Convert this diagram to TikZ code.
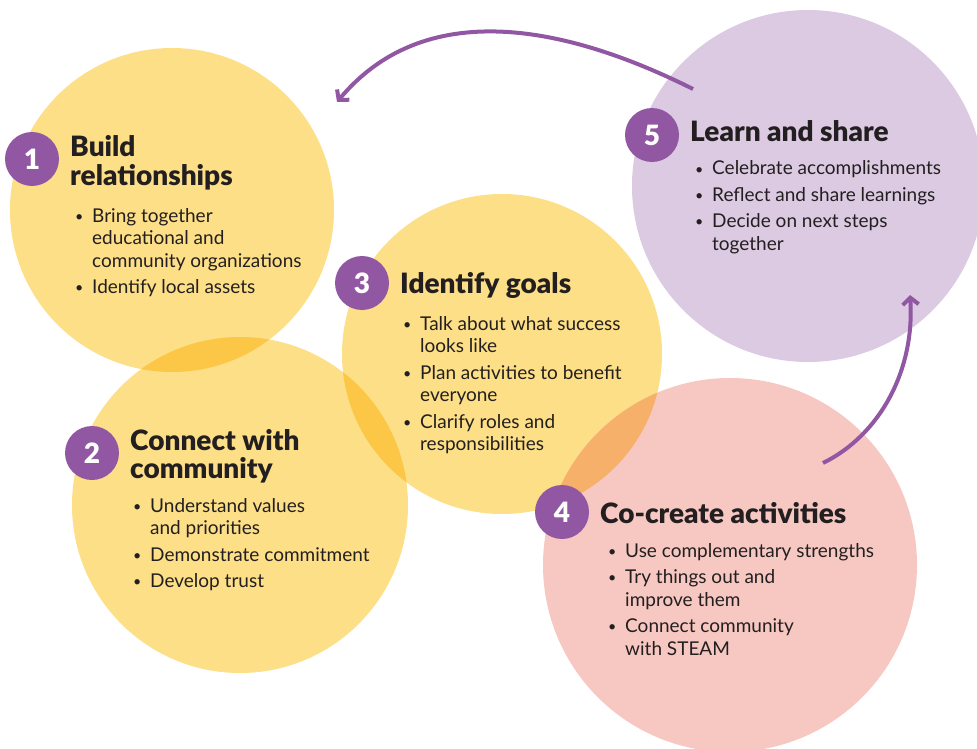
\documentclass[tikz,border=0pt]{standalone}
\usepackage{fontspec}
\setmainfont{Lato}
\newfontfamily\headfont{Lato Black}
\usetikzlibrary{arrows.meta}

\definecolor{sunyellow}{HTML}{FCDF87}
\definecolor{deepyellow}{HTML}{FCC647}
\definecolor{blush}{HTML}{F7C8C2}
\definecolor{peach}{HTML}{F6B06A}
\definecolor{lilac}{HTML}{DBCAE2}
\definecolor{plum}{HTML}{9157A3}
\definecolor{ink}{HTML}{231F20}

\newcommand{\bul}{\makebox[17pt][l]{\raisebox{1pt}{\scalebox{0.75}{\textbullet}}}}
\newcommand{\ind}{\hspace*{17pt}}

\begin{document}
\begin{tikzpicture}[x=1pt, y=-1pt,
    badge/.style={circle, fill=plum, text=white, minimum size=54pt, inner sep=0pt,
                  font=\headfont\fontsize{28}{28}\selectfont},
    heading/.style={anchor=base west, inner sep=0pt, text=ink,
                    font=\headfont\fontsize{28}{26}\selectfont},
    points/.style={anchor=base west, inner sep=0pt, text=ink,
                   font=\fontsize{19}{22.5}\selectfont},
    cyclearrow/.style={draw=plum, line width=4pt, -{Straight Barb[length=7pt,width=16pt]}}]
\useasboundingbox (0,0) rectangle (977,749);

% circle centres
\coordinate (o1) at (172,210);
\coordinate (o2) at (240,505);
\coordinate (o3) at (502,354);
\coordinate (o4) at (730,565);
\coordinate (o5) at (808,186);

\fill[sunyellow] (o1) circle (162pt);
\fill[sunyellow] (o2) circle (168pt);
\fill[sunyellow] (o3) circle (160pt);
\fill[blush] (o4) circle (187pt);
\fill[lilac] (o5) circle (176pt);

% overlaps
\begin{scope}
  \clip (o1) circle (162pt);
  \fill[deepyellow] (o2) circle (168pt);
\end{scope}
\begin{scope}
  \clip (o2) circle (168pt);
  \fill[deepyellow] (o3) circle (160pt);
\end{scope}
\begin{scope}
  \clip (o3) circle (160pt);
  \fill[peach] (o4) circle (187pt);
\end{scope}

% arrows
\coordinate (s5) at (693,89);
\coordinate (e1) at (337,102);
\coordinate (s4) at (823,463);
\coordinate (e5) at (910,295);
\draw[cyclearrow] (s5) .. controls (591,38) and (434,-14) .. (e1);
\draw[cyclearrow] (s4) .. controls (880,435) and (915,370) .. (e5);

% 1
\node[badge] (b1) at (32,159) {1};
\node[heading] (h1) at (70,157) {\begin{tabular}[t]{@{}l@{}}Build\\relationships\end{tabular}};
\node[points] (p1) at (75,222) {\begin{tabular}[t]{@{}l@{}}
  \bul Bring together\\ \ind educational and\\ \ind community organizations\\[4pt]
  \bul Identify local assets\end{tabular}};

% 2
\node[badge] (b2) at (92,453) {2};
\node[heading] (h2) at (130,450) {\begin{tabular}[t]{@{}l@{}}Connect with\\community\end{tabular}};
\node[points] (p2) at (133,512) {\begin{tabular}[t]{@{}l@{}}
  \bul Understand values\\ \ind and priorities\\[4pt]
  \bul Demonstrate commitment\\[4pt]
  \bul Develop trust\end{tabular}};

% 3
\node[badge] (b3) at (362,283) {3};
\node[heading] (h3) at (400,293) {Identify goals};
\node[points] (p3) at (403,330) {\begin{tabular}[t]{@{}l@{}}
  \bul Talk about what success\\ \ind looks like\\[4pt]
  \bul Plan activities to benefit\\ \ind everyone\\[4pt]
  \bul Clarify roles and\\ \ind responsibilities\end{tabular}};

% 4
\node[badge] (b4) at (562,512) {4};
\node[heading] (h4) at (600,523) {Co-create activities};
\node[points] (p4) at (608,557) {\begin{tabular}[t]{@{}l@{}}
  \bul Use complementary strengths\\[4pt]
  \bul Try things out and\\ \ind improve them\\[4pt]
  \bul Connect community\\ \ind with STEAM\end{tabular}};

% 5
\node[badge] (b5) at (652,135) {5};
\node[heading] (h5) at (690,142) {Learn and share};
\node[points] (p5) at (695,175) {\begin{tabular}[t]{@{}l@{}}
  \bul Celebrate accomplishments\\[4pt]
  \bul Reflect and share learnings\\[4pt]
  \bul Decide on next steps\\ \ind together\end{tabular}};
\end{tikzpicture}
\end{document}
